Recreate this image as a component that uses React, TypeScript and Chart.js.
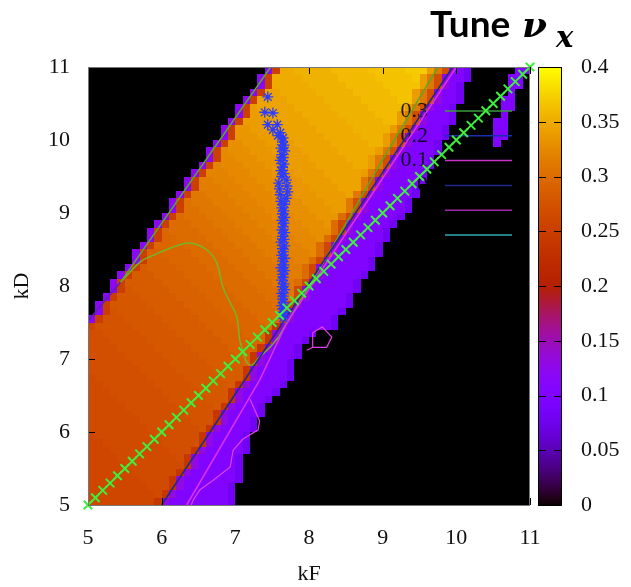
import React, { useEffect, useRef } from 'react';
import { Chart, registerables } from 'chart.js';

Chart.register(...registerables);

// Axis ranges (quadrupole strengths) and colour-bar range (tune)
const KF_RANGE = [5, 11];
const KD_RANGE = [5, 11];
const CELL = 0.1;
const TUNE_MAX = 0.4;
const AXIS_TICKS = [5, 6, 7, 8, 9, 10, 11];
const CB_TICKS = [0, 0.05, 0.1, 0.15, 0.2, 0.25, 0.3, 0.35, 0.4];

// Tune level symbols: position in this string / 100 = tune value,
// a trailing "+" adds half a step (0.005).
const LEVELS = '0123456789abcdefghijklmnopqrstuvwxyzABCDEFGHIJ';

// Horizontal tune, one row per 0.1 in kD (top row kD 10.9-11.0),
// one symbol per 0.1 in kF, run-length written as "symbol*count".
const TUNE_ROWS = [
  '0*24 c p z*2 z+*5 A*5 A+*5 B*3 y v r d a 8 0*6 a a',
  '0*23 c p z*4 z+*5 A*5 A+*5 B y v r d a a 8 0*5 a a 0',
  '0*23 c p z*5 z+*5 A*5 A+*5 y v r d a 8 0*6 a a 0',
  '0*22 c p y+*2 z*5 z+*5 A*5 A+*3 y v r d a a 8 0*6 a 0*2',
  '0*21 c p y+*4 z*5 z+*5 A*5 A+*2 y v r d a a 8 0*5 a a 0*2',
  '0*20 c p y y+*5 z*5 z+*5 A*5 y v r d a a 8 0*6 a a 0*2',
  '0*20 c p y*2 y+*5 z*5 z+*5 A*3 y v r d a*3 8 0*6 a 0*3',
  '0*19 c p y*4 y+*5 z*5 z+*5 A*2 y v r d a*3 8 0*5 a a 0*3',
  '0*18 c p x+*2 y*4 y+*5 z*5 z+*5 y v r d a*3 8 0*6 a a 0*3',
  '0*18 c p x+*3 y*4 y+*5 z*5 z+*3 y v r d a*4 8 0*6 a a 0*3',
  '0*17 c p x*2 x+*3 y*4 y+*5 z*5 z+*2 y v r d a*3 8 0*7 a 0*4',
  '0*16 c p w+ x*3 x+*3 y*4 y+*5 z*5 y v r d a*4 8 0*12',
  '0*16 c p w+*2 x*3 x+*3 y*4 y+*5 z*3 y v r d a*4 8 0*13',
  '0*15 c p w w+*3 x*3 x+*3 y*4 y+*5 z*2 y v r d a*4 8 0*13',
  '0*14 c p w*3 w+*3 x*3 x+*3 y*4 y+*5 y v r d a*4 8 0*14',
  '0*13 c p v+*2 w*3 w+*3 x*3 x+*3 y*4 y+*4 v r d a*5 8 0*14',
  '0*13 c p v+*3 w*3 w+*3 x*3 x+*3 y*4 y+*3 v r d a*4 8 0*15',
  '0*12 c p v*2 v+*3 w*3 w+*3 x*3 x+*3 y*4 y+ v r d a*5 8 0*15',
  '0*11 c p u+ v*3 v+*3 w*3 w+*3 x*3 x+*3 y*3 v r d a*5 8 0*16',
  '0*11 c p u+*2 v*3 v+*3 w*3 w+*3 x*3 x+*3 y*2 v r d a*5 8 0*16',
  '0*10 c p u u+*3 v*3 v+*3 w*3 w+*3 x*3 x+*3 u q d a*5 8 0*17',
  '0*9 c p u*3 u+*3 v*3 v+*3 w*3 w+*3 x*3 x+ u q d a*5 8 0*18',
  '0*8 c p t+ u*4 u+*3 v*3 v+*3 w*3 w+*3 x*3 u q d a*4 8 0*19',
  '0*8 c p t+*2 u*4 u+*3 v*3 v+*3 w*3 w+*3 x u q d a*5 8 0*19',
  '0*7 c p t+*4 u*4 u+*3 v*3 v+*3 w*3 w+*2 u q d a*5 8 0*20',
  '0*6 c p t*2 t+*4 u*4 u+*3 v*3 v+*3 w*3 w+ u q d a*5 8 0*20',
  '0*6 c p t*3 t+*4 u*4 u+*3 v*3 v+*3 w*2 u q d a*5 8 0*21',
  '0*5 c p s+ t*4 t+*4 u*4 u+*3 v*3 v+*3 u q d a*6 8 0*21',
  '0*4 c p s+*3 t*4 t+*4 u*4 u+*3 v*3 v+*2 u q d a*5 8 0*22',
  '0*3 c p s+*5 t*4 t+*4 u*4 u+*3 v*3 u q d a*5 8 0*23',
  '0*3 c p s s+*5 t*4 t+*4 u*4 u+*3 v*2 q d a*6 8 0*23',
  '0*2 c p s*3 s+*5 t*4 t+*4 u*4 u+*3 v q d a*5 8 0*24',
  '0 c p s*5 s+*5 t*4 t+*4 u*4 u+*2 q d a*6 8 0*24',
  '0 c p r+ s*5 s+*5 t*4 t+*4 u*4 q d a*6 8 0*25',
  'c p r+*3 s*5 s+*5 t*4 t+*4 u*3 q d a*5 8 0*26',
  'q r+*5 s*5 s+*5 t*4 t+*4 u o d a*6 8 0*26',
  'r*2 r+*5 s*5 s+*5 t*4 t+*3 o d a*4 8 0*29',
  'r*3 r+*5 s*5 s+*5 t*4 t+*2 o d a*3 8 0*30',
  'r*4 r+*5 s*5 s+*5 t*4 o d a*3 8 0*31',
  'r*5 r+*5 s*5 s+*5 t*2 o d a*4 8 0*31',
  'r*6 r+*5 s*5 s+*5 t o d a*3 8 0*32',
  'r*7 r+*5 s*5 s+*4 o d a*4 8 0*32',
  'q+ r*7 r+*5 s*5 s+*3 o d a*4 8 0*32',
  'q+*2 r*7 r+*5 s*5 s+ o d a*4 8 0*33',
  'q+*3 r*7 r+*5 s*4 o d a*4 8 0*34',
  'q+*4 r*7 r+*5 s*3 o d a*3 8 0*35',
  'q+*5 r*7 r+*5 s o d a*3 8 0*36',
  'q+*6 r*7 r+*4 o d a*4 8 0*36',
  'q+*7 r*7 r+*3 o d a*3 8 0*37',
  'q+*8 r*7 r+ o d a*4 8 0*37',
  'q q+*8 r*6 o d a*4 8 0*38',
  'q*2 q+*8 r*5 o d a*4 8 0*38',
  'q*3 q+*8 r*3 o d a*5 8 0*38',
  'q*4 q+*8 r o d a*5 8 0*39',
  'q*5 q+*8 o d a*5 8 0*39',
  'q*6 q+*6 o d a*6 8 0*39',
  'q*7 q+*4 o d a*7 8 0*39',
  'q*8 q+*3 o d a*6 8 0*40',
  'q*9 q+ o d a*7 8 0*40',
  'q*9 o d a*8 8 0*40',
];

// Scan along kF = kD
const DIAG_SCAN = [
  5.0, 5.1, 5.2, 5.3, 5.4, 5.5, 5.6, 5.7, 5.8, 5.9,
  6.0, 6.1, 6.2, 6.3, 6.4, 6.5, 6.6, 6.7, 6.8, 6.9,
  7.0, 7.1, 7.2, 7.3, 7.4, 7.5, 7.6, 7.7, 7.8, 7.9,
  8.0, 8.1, 8.2, 8.3, 8.4, 8.5, 8.6, 8.7, 8.8, 8.9,
  9.0, 9.1, 9.2, 9.3, 9.4, 9.5, 9.6, 9.7, 9.8, 9.9,
  10.0, 10.1, 10.2, 10.3, 10.4, 10.5, 10.6, 10.7, 10.8, 10.9,
  11.0,
];

// Working points
const STAR_KF = [
  7.44, 7.40, 7.51, 7.44, 7.57, 7.51, 7.61, 7.58, 7.65,
  7.64, 7.66, 7.62, 7.67, 7.63, 7.65, 7.61, 7.66, 7.64, 7.62,
  7.66, 7.63, 7.69, 7.59, 7.70, 7.60, 7.71, 7.61, 7.69, 7.62,
  7.67, 7.63, 7.66, 7.64, 7.67, 7.63, 7.66, 7.65, 7.63, 7.67,
  7.64, 7.66, 7.62, 7.67, 7.64, 7.65, 7.63, 7.67, 7.64, 7.66,
  7.62, 7.67, 7.64, 7.65, 7.63, 7.66, 7.64, 7.67, 7.63, 7.65,
  7.64, 7.66, 7.63, 7.65, 7.64, 7.66, 7.65,
];
const STAR_KD = [
  10.59, 10.38, 10.37, 10.21, 10.21, 10.14, 10.10, 10.06, 10.03,
  9.97, 9.93, 9.89, 9.85, 9.80, 9.76, 9.72, 9.67, 9.63, 9.58,
  9.54, 9.50, 9.45, 9.41, 9.37, 9.33, 9.29, 9.25, 9.20, 9.16,
  9.12, 9.07, 9.03, 8.99, 8.94, 8.90, 8.86, 8.81, 8.77, 8.73,
  8.68, 8.64, 8.60, 8.55, 8.51, 8.47, 8.42, 8.38, 8.34, 8.29,
  8.25, 8.21, 8.16, 8.12, 8.08, 8.03, 7.99, 7.95, 7.90, 7.86,
  7.82, 7.77, 7.73, 7.69, 7.64, 7.60, 7.56,
];

// Contour lines as [kF, kD] pairs
const GREEN_EDGE = [[7.48, 11.0], [5.44, 8.05]];
const GREEN_ARC = [
  [5.44, 8.05], [5.71, 8.33], [5.84, 8.4], [6.15, 8.53], [6.38, 8.59], [6.62, 8.49],
  [6.75, 8.31], [6.83, 7.99], [6.93, 7.77], [7.02, 7.58], [7.06, 7.26], [7.1, 7.12],
  [7.16, 6.95], [7.23, 6.92], [7.33, 7.03], [7.47, 7.16], [7.58, 7.29],
];
const GREEN_DIAG = [[7.58, 7.29], [8.24, 8.4], [9.0, 9.73], [9.75, 11.0]];
const NAVY_DIAG = [[6.0, 5.0], [9.95, 11.0]];
const NAVY_EDGE = [[5.0, 7.52], [5.44, 8.05]];
const MAGENTA_DIAG = [[6.34, 5.0], [7.33, 6.71], [7.7, 7.5], [10.0, 11.0]];
const MAGENTA_LOOP = [
  [6.4, 5.0], [6.43, 5.07], [6.52, 5.21], [6.7, 5.34], [6.93, 5.52], [6.97, 5.75],
  [7.1, 5.9], [7.31, 6.03], [7.33, 6.15], [7.2, 6.45],
];
const MAGENTA_ISLAND = [
  [7.97, 7.12], [8.05, 7.16], [8.24, 7.16], [8.31, 7.3], [8.18, 7.44], [8.05, 7.36], [8.05, 7.16],
];

// Contour key
const KEY_LABELS = ['0.3', '0.2', '0.1', '0'];
const KEY_COLORS = ['#3c9c3c', '#1c2cb0', '#c830c8', '#202890', '#a028a8', '#30a8b8'];

const SERIF = '"Liberation Serif", "Times New Roman", serif';

function decodeRow(row: string): number[] {
  const out: number[] = [];
  row.split(' ').forEach((tok) => {
    if (!tok) return;
    const [head, n] = tok.split('*');
    const count = n ? parseInt(n, 10) : 1;
    const half = head[1] === '+' ? 0.005 : 0;
    const v = LEVELS.indexOf(head[0]) / 100 + half;
    for (let i = 0; i < count; i++) out.push(v);
  });
  while (out.length < 60) out.push(0);
  return out.slice(0, 60);
}

const TUNE_GRID = TUNE_ROWS.map(decodeRow);

// black - purple - red - orange - yellow palette
function tuneColor(v: number): string {
  const t = Math.min(1, Math.max(0, v / TUNE_MAX));
  const r = Math.sqrt(t);
  const g = t * t * t;
  const b = Math.max(0, Math.sin(2 * Math.PI * t));
  return `rgb(${Math.round(r * 255)},${Math.round(g * 255)},${Math.round(b * 255)})`;
}

const pairs = (arr: number[][]) => arr.map(([x, y]) => ({ x, y }));

const tuneMapPlugin = {
  id: 'tuneMap',
  beforeDatasetsDraw(chart: any) {
    const { ctx, chartArea: a, scales } = chart;
    const xs = scales.x;
    const ys = scales.y;
    ctx.save();
    ctx.beginPath();
    ctx.rect(a.left, a.top, a.right - a.left, a.bottom - a.top);
    ctx.clip();
    ctx.fillStyle = '#000';
    ctx.fillRect(a.left, a.top, a.right - a.left, a.bottom - a.top);
    TUNE_GRID.forEach((row, i) => {
      const kdHi = KD_RANGE[1] - i * CELL;
      const y0 = Math.round(ys.getPixelForValue(kdHi));
      const y1 = Math.round(ys.getPixelForValue(kdHi - CELL));
      row.forEach((v, j) => {
        if (v <= 0) return;
        const x0 = Math.round(xs.getPixelForValue(KF_RANGE[0] + j * CELL));
        const x1 = Math.round(xs.getPixelForValue(KF_RANGE[0] + (j + 1) * CELL));
        ctx.fillStyle = tuneColor(v);
        ctx.fillRect(x0, y0, x1 - x0, y1 - y0);
      });
    });

    // contour key
    ctx.lineWidth = 1.5;
    KEY_COLORS.forEach((c, k) => {
      const y = a.top + 44 + k * 24.8;
      ctx.strokeStyle = c;
      ctx.beginPath();
      ctx.moveTo(a.right - 85, y);
      ctx.lineTo(a.right - 18, y);
      ctx.stroke();
    });
    ctx.font = `22px ${SERIF}`;
    ctx.fillStyle = 'rgba(0,0,0,0.85)';
    ctx.textAlign = 'right';
    ctx.textBaseline = 'middle';
    KEY_LABELS.forEach((label, k) => {
      ctx.fillText(label, a.right - 102, a.top + 44 + k * 24.8);
    });
    ctx.restore();
  },
  afterDraw(chart: any) {
    const { ctx, chartArea: a, scales } = chart;
    const xs = scales.x;
    const ys = scales.y;
    const cb = scales.cb;
    ctx.save();

    // inward tick marks on all four sides
    ctx.strokeStyle = '#000';
    ctx.lineWidth = 1;
    AXIS_TICKS.forEach((v) => {
      const x = Math.round(xs.getPixelForValue(v)) + 0.5;
      const y = Math.round(ys.getPixelForValue(v)) + 0.5;
      ctx.beginPath();
      ctx.moveTo(x, a.bottom); ctx.lineTo(x, a.bottom - 7);
      ctx.moveTo(x, a.top); ctx.lineTo(x, a.top + 7);
      ctx.moveTo(a.left, y); ctx.lineTo(a.left + 7, y);
      ctx.moveTo(a.right, y); ctx.lineTo(a.right - 7, y);
      ctx.stroke();
    });

    // plot frame
    ctx.strokeStyle = '#777';
    ctx.strokeRect(a.left + 0.5, a.top + 0.5, a.right - a.left - 1, a.bottom - a.top);

    // colour bar
    const bx = cb.left + 8;
    const bw = 24;
    const top = Math.round(cb.getPixelForValue(TUNE_MAX));
    const bottom = Math.round(cb.getPixelForValue(0));
    for (let y = top; y < bottom; y++) {
      ctx.fillStyle = tuneColor(cb.getValueForPixel(y + 0.5));
      ctx.fillRect(bx, y, bw, 1);
    }
    ctx.strokeStyle = '#000';
    ctx.strokeRect(bx + 0.5, top + 0.5, bw - 1, bottom - top);
    CB_TICKS.forEach((v) => {
      const y = Math.round(cb.getPixelForValue(v)) + 0.5;
      ctx.beginPath();
      ctx.moveTo(bx, y); ctx.lineTo(bx + 8, y);
      ctx.moveTo(bx + bw - 8, y); ctx.lineTo(bx + bw, y);
      ctx.stroke();
    });

    // title
    ctx.fillStyle = '#000';
    ctx.textAlign = 'left';
    ctx.textBaseline = 'alphabetic';
    ctx.font = 'bold 37px Lato, "Open Sans", sans-serif';
    ctx.fillText('Tune', 430, 37);
    ctx.font = 'italic bold 36px "DejaVu Serif", serif';
    ctx.fillText('\u03BD', 522, 37);
    ctx.font = 'italic bold 29px "DejaVu Serif", serif';
    ctx.fillText('x', 556, 47);
    ctx.restore();
  },
};

export default function App() {
  const canvasRef = useRef<HTMLCanvasElement | null>(null);

  useEffect(() => {
    const canvas = canvasRef.current;
    if (!canvas) return;
    const tickFont = { family: SERIF, size: 22 };
    const lineSet = (data: number[][], color: string, extra: any = {}) => ({
      data: pairs(data),
      showLine: true,
      fill: false,
      pointRadius: 0,
      borderColor: color,
      borderWidth: 1.5,
      order: 2,
      ...extra,
    });

    const chart = new Chart(canvas, {
      type: 'scatter',
      data: {
        datasets: [
          {
            data: DIAG_SCAN.map((v) => ({ x: v, y: v })),
            pointStyle: 'crossRot',
            pointRadius: 6,
            pointBorderColor: '#3ef03e',
            pointBorderWidth: 2,
            borderColor: '#3ef03e',
            showLine: false,
            clip: false,
            order: 0,
          },
          {
            data: STAR_KF.map((x, i) => ({ x, y: STAR_KD[i] })),
            pointStyle: 'star',
            pointRadius: 5.5,
            pointBorderColor: '#2b3cff',
            pointBorderWidth: 1.3,
            borderColor: '#2b3cff',
            showLine: false,
            order: 1,
          },
          lineSet(NAVY_DIAG, '#202890'),
          lineSet(NAVY_EDGE, '#5a20b0'),
          lineSet(MAGENTA_DIAG, '#e030e8'),
          lineSet(MAGENTA_LOOP, '#e040e8', { borderWidth: 1.2 }),
          lineSet(MAGENTA_ISLAND, '#e040e8', { borderWidth: 1.2 }),
          lineSet(GREEN_EDGE, '#5aa828'),
          lineSet(GREEN_ARC, '#78b428', { tension: 0.4 }),
          lineSet(GREEN_DIAG, '#5aa828'),
        ],
      },
      options: {
        animation: false,
        responsive: false,
        devicePixelRatio: 1,
        events: [],
        layout: { padding: { left: 0, right: 0, top: 67, bottom: 0 } },
        plugins: { legend: { display: false }, tooltip: { enabled: false }, title: { display: false } },
        scales: {
          x: {
            type: 'linear',
            min: KF_RANGE[0],
            max: KF_RANGE[1],
            ticks: { stepSize: 1, font: tickFont, color: '#111', padding: 20 },
            grid: { display: false, drawTicks: false },
            border: { display: false },
            title: { display: true, text: 'kF', font: tickFont, color: '#111', padding: { top: 0, bottom: 0 } },
            afterFit: (s: any) => { s.height = 82; },
          },
          y: {
            type: 'linear',
            min: KD_RANGE[0],
            max: KD_RANGE[1],
            ticks: { stepSize: 1, font: tickFont, color: '#111', padding: 18 },
            grid: { display: false, drawTicks: false },
            border: { display: false },
            title: { display: true, text: 'kD', font: tickFont, color: '#111', padding: { top: 9, bottom: 0 } },
            afterFit: (s: any) => { s.width = 88; },
          },
          cb: {
            type: 'linear',
            axis: 'y',
            position: 'right',
            min: 0,
            max: TUNE_MAX,
            ticks: {
              stepSize: 0.05,
              font: tickFont,
              color: '#111',
              padding: 51,
              callback: (v: any) => String(Number(Number(v).toFixed(2))),
            },
            grid: { display: false, drawTicks: false },
            border: { display: false },
            afterFit: (s: any) => { s.width = 101; },
          },
        },
      } as any,
      plugins: [tuneMapPlugin],
    });
    return () => chart.destroy();
  }, []);

  return (
    <div style={{ position: 'fixed', left: 0, top: 0, width: 631, height: 587, background: '#fff' }}>
      <canvas ref={canvasRef} width={631} height={587} style={{ display: 'block' }} />
    </div>
  );
}
